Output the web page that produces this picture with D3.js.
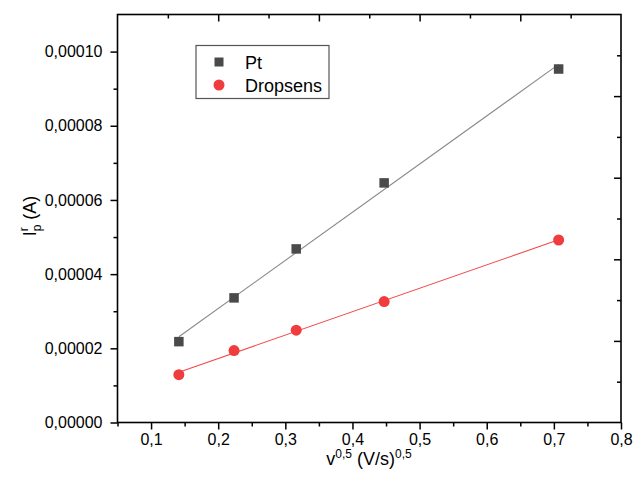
<!DOCTYPE html>
<html>
<head>
<meta charset="utf-8">
<script src="https://cdn.jsdelivr.net/npm/d3@7"></script>
<style>
  html, body { margin: 0; padding: 0; background: #fff; }
  svg { display: block; font-family: "Liberation Sans", Arial, sans-serif; }
</style>
</head>
<body>
<svg id="chart" width="634" height="488"></svg>
<script>
// ---- data ----
const xValues = [0.1414, 0.2236, 0.3162, 0.4472, 0.7071];
const ptValues = [2.18e-5, 3.36e-5, 4.68e-5, 6.46e-5, 9.53e-5];
const dropsensValues = [1.29e-5, 1.94e-5, 2.49e-5, 3.26e-5, 4.92e-5];
const seriesNames = ["Pt", "Dropsens"];
const xMajorTicks = [0.1, 0.2, 0.3, 0.4, 0.5, 0.6, 0.7, 0.8];
const xMinorTicks = [0.05, 0.15, 0.25, 0.35, 0.45, 0.55, 0.65, 0.75];
const yMajorTicks = [0, 0.00002, 0.00004, 0.00006, 0.00008, 0.0001];
const yMinorTicks = [0.00001, 0.00003, 0.00005, 0.00007, 0.00009];
const xDomain = [0.05, 0.8];
const yDomain = [0, 0.00011];

(function () {
// ---- layout ----
const pLeft = 117.5, pRight = 621, pTop = 14.5, pBottom = 422.5;
const svg = d3.select("#chart");

const x = d3.scaleLinear().domain(xDomain).range([pLeft, pRight]);
const y = d3.scaleLinear().domain(yDomain).range([pBottom, pTop]);
// top/right frame axes: 10 equal divisions
const xTop = d3.scaleLinear().domain([0, 10]).range([pLeft, pRight]);
const yRight = d3.scaleLinear().domain([0, 10]).range([pBottom, pTop]);

const commaFmt = f => v => f(v).replace(".", ",");

// bottom axis
const gB = svg.append("g").attr("transform", `translate(0,${pBottom})`);
gB.call(d3.axisBottom(x).tickValues(xMajorTicks).tickSize(7).tickPadding(4)
  .tickFormat(commaFmt(d3.format(".1f"))));
gB.append("g").call(d3.axisBottom(x).tickValues(xMinorTicks).tickSize(4).tickFormat(""));

// left axis
const gL = svg.append("g").attr("transform", `translate(${pLeft},0)`);
gL.call(d3.axisLeft(y).tickValues(yMajorTicks).tickSize(7).tickPadding(8)
  .tickFormat(commaFmt(d3.format(".5f"))));
gL.append("g").call(d3.axisLeft(y).tickValues(yMinorTicks).tickSize(4).tickFormat(""));

// top axis (inward ticks)
const gT = svg.append("g").attr("transform", `translate(0,${pTop})`);
gT.call(d3.axisBottom(xTop).tickValues([2, 4, 6, 8]).tickSize(7).tickFormat(""));
gT.append("g").call(d3.axisBottom(xTop).tickValues([1, 3, 5, 7, 9]).tickSize(4).tickFormat(""));

// right axis (inward ticks)
const gR = svg.append("g").attr("transform", `translate(${pRight},0)`);
gR.call(d3.axisLeft(yRight).tickValues([2, 4, 6, 8]).tickSize(7).tickFormat(""));
gR.append("g").call(d3.axisLeft(yRight).tickValues([1, 3, 5, 7, 9]).tickSize(4).tickFormat(""));

svg.selectAll(".domain").remove();
svg.selectAll(".tick line").attr("stroke", "#000").attr("stroke-width", 1.5);
svg.selectAll(".tick text").attr("fill", "#000").style("font-size", "16px")
  .style("font-family", '"Liberation Sans", Arial, sans-serif');

// frame
svg.append("rect").attr("x", pLeft).attr("y", pTop)
  .attr("width", pRight - pLeft).attr("height", pBottom - pTop)
  .attr("fill", "none").attr("stroke", "#000").attr("stroke-width", 1.6);

// linear fits (least squares from data)
function fit(xs, ys) {
  const n = xs.length;
  const mx = d3.mean(xs), my = d3.mean(ys);
  let sxy = 0, sxx = 0;
  for (let i = 0; i < n; i++) { sxy += (xs[i]-mx)*(ys[i]-my); sxx += (xs[i]-mx)**2; }
  const b = sxy / sxx, a = my - b * mx;
  const x0 = d3.min(xs), x1 = d3.max(xs);
  return [[x0, a + b * x0], [x1, a + b * x1]];
}
const line = d3.line().x(d => x(d[0])).y(d => y(d[1]));
svg.append("path").attr("d", line(fit(xValues, ptValues)))
  .attr("stroke", "#8a8a8a").attr("stroke-width", 1.1).attr("fill", "none");
svg.append("path").attr("d", line(fit(xValues, dropsensValues)))
  .attr("stroke", "#f24a4a").attr("stroke-width", 1.1).attr("fill", "none");

const ptColor = "#4a4a4a", redColor = "#f03c3c";
const sq = 9.5;
svg.append("g").selectAll("rect").data(xValues).join("rect")
  .attr("x", (d, i) => x(d) - sq / 2).attr("y", (d, i) => y(ptValues[i]) - sq / 2)
  .attr("width", sq).attr("height", sq).attr("fill", ptColor);
svg.append("g").selectAll("circle").data(xValues).join("circle")
  .attr("cx", d => x(d)).attr("cy", (d, i) => y(dropsensValues[i]))
  .attr("r", 5.5).attr("fill", redColor);

// legend
const lg = svg.append("g");
lg.append("rect").attr("x", 196).attr("y", 45.5).attr("width", 133).attr("height", 53)
  .attr("fill", "#fff").attr("stroke", "#555").attr("stroke-width", 1.2);
lg.append("rect").attr("x", 219 - 4.5).attr("y", 62 - 4.5).attr("width", 9).attr("height", 9).attr("fill", ptColor);
lg.append("circle").attr("cx", 219).attr("cy", 85).attr("r", 5.5).attr("fill", redColor);
lg.selectAll("text.leg").data(seriesNames).join("text").attr("class", "leg")
  .attr("x", 245).attr("y", (d, i) => 68.5 + i * 23)
  .style("font-size", "18px").attr("fill", "#000").text(d => d);

// x title
const xt = svg.append("text").attr("x", 369).attr("y", 465)
  .attr("text-anchor", "middle").style("font-size", "18px").attr("fill", "#000");
xt.append("tspan").text("v");
xt.append("tspan").attr("dy", -7).style("font-size", "12px").text("0,5");
xt.append("tspan").attr("dy", 7).text(" (V/s)");
xt.append("tspan").attr("dy", -7).style("font-size", "12px").text("0,5");

// y title
const yt = svg.append("text").attr("transform", "translate(36,216) rotate(-90)")
  .attr("text-anchor", "middle").style("font-size", "18px").attr("fill", "#000");
yt.append("tspan").text("I");
yt.append("tspan").attr("dy", -8).style("font-size", "12px").text("r");
yt.append("tspan").attr("dy", 13).attr("dx", -4).style("font-size", "12px").text("p");
yt.append("tspan").attr("dy", -5).text(" (A)");
})();
</script>
</body>
</html>
